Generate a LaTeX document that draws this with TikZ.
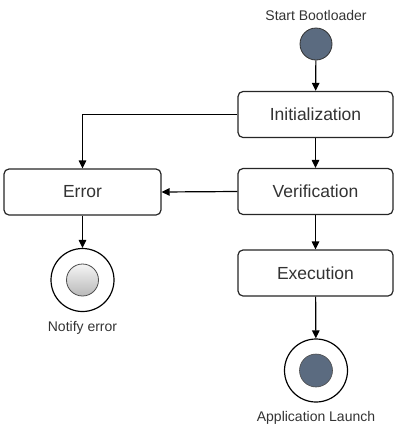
\documentclass[tikz,border=0pt]{standalone}
\usepackage{fontspec}
\setmainfont{Liberation Sans}
\usetikzlibrary{arrows.meta}
\definecolor{startfill}{HTML}{5B6B80}
\definecolor{txt}{HTML}{333333}
\begin{document}
\begin{tikzpicture}[x=1pt,y=-1pt,
  state/.style={draw=black!85,line width=1.2pt,rounded corners=5pt,fill=white,
    minimum width=155pt,minimum height=46pt,inner sep=0pt,
    font=\fontsize{17.5}{20}\selectfont,text=txt},
  lbl/.style={font=\fontsize{14}{16}\selectfont,text=txt,inner sep=0pt},
  flow/.style={line width=1.2pt,draw=black,-{Triangle[length=8pt,width=7.5pt]}},
  startdot/.style={circle,draw=black!80,line width=0.8pt,fill=startfill,minimum size=32pt,inner sep=0pt},
  endring/.style={circle,draw=black,line width=1.2pt,fill=white,minimum size=63pt,inner sep=0pt},
  enddark/.style={circle,draw=black!70,line width=0.6pt,fill=startfill,minimum size=33pt,inner sep=0pt},
  endgray/.style={circle,draw=black!70,line width=0.8pt,top color=gray!8,bottom color=gray!55,minimum size=32pt,inner sep=0pt}]
\useasboundingbox (0,0) rectangle (394,429);
\node[lbl] (lstart) at (316,15) {Start Bootloader};
\node[startdot] (start) at (316,44) {};
\node[state] (init) at (315.5,114.5) {Initialization};
\node[state] (verif) at (315.5,191.5) {Verification};
\node[state] (exec) at (315.5,273) {Execution};
\node[state,minimum width=157pt] (err) at (82.5,192) {Error};
\node[endring] (endok) at (316,370.5) {};
\node[enddark] (endokin) at (endok) {};
\node[lbl] (lapp) at (316,418) {Application Launch};
\node[endring] (enderr) at (82.5,280) {};
\node[endgray] (enderrin) at (enderr) {};
\node[lbl] (lerr) at (82.5,328) {Notify error};
\draw[flow] (start) -- (init);
\draw[flow] (init) -- (verif);
\draw[flow] (verif) -- (exec);
\draw[flow] (exec) -- (endok);
\draw[flow] (init.west) -| (err.north);
\draw[flow] (verif.west) -- (err.east);
\draw[flow] (err) -- (enderr);
\end{tikzpicture}
\end{document}
